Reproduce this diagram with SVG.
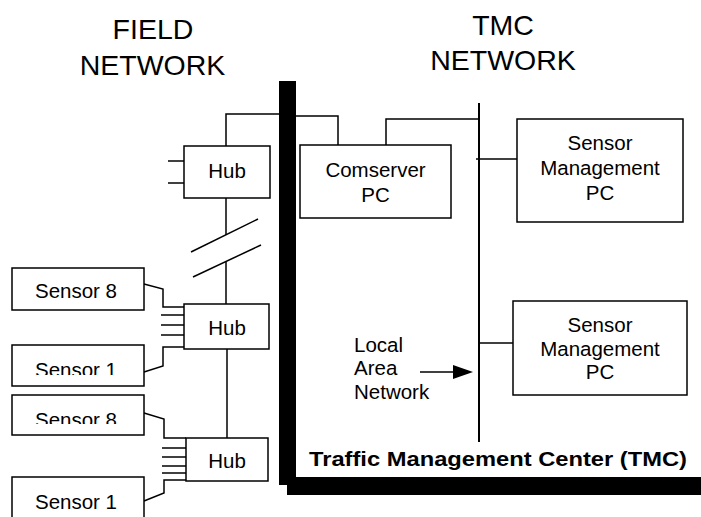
<svg xmlns="http://www.w3.org/2000/svg" width="701" height="517" viewBox="0 0 701 517">
<style>
text{font-family:"Liberation Sans",Arial,sans-serif;fill:#000}
.t{font-size:20.5px;text-anchor:middle}
.h{font-size:28.5px;text-anchor:middle}
.l{font-size:20.5px}
.b{fill:#fff;stroke:#000;stroke-width:1.5}
.c{fill:none;stroke:#000;stroke-width:1.5}
</style>
<defs>
<clipPath id="clipS1"><rect x="12" y="345" width="132" height="30"/></clipPath>
<clipPath id="clipS8"><rect x="12" y="395" width="132" height="29"/></clipPath>
</defs>
<rect width="701" height="517" fill="#fff"/>
<g id="titles">
<text class="h" x="153" y="39">FIELD</text>
<text class="h" x="152.5" y="75">NETWORK</text>
<text class="h" x="503" y="35">TMC</text>
<text class="h" x="503" y="70">NETWORK</text>
</g>
<g id="tmc-border">
<rect x="279" y="81" width="17" height="404" fill="#000"/>
<rect x="287" y="477" width="414" height="18" fill="#000"/>
<text x="309" y="466" font-size="20.5" font-weight="bold" textLength="378" lengthAdjust="spacingAndGlyphs">Traffic Management Center (TMC)</text>
</g>
<g id="connectors" class="c">
<polyline points="226,146 226,114 279,114"/>
<polyline points="296,116 338,116 338,145"/>
<polyline points="386,145 386,119 479,119"/>
<line x1="479" y1="103" x2="479" y2="442" stroke-width="2"/>
<line x1="476" y1="159" x2="517" y2="159"/>
<line x1="479" y1="343" x2="513" y2="343"/>
<line x1="168" y1="161" x2="184" y2="161"/>
<line x1="168" y1="183" x2="184" y2="183"/>
<line x1="226" y1="198" x2="226" y2="235"/>
<line x1="191" y1="252" x2="258" y2="219"/>
<line x1="193" y1="277" x2="261" y2="245"/>
<line x1="226" y1="262" x2="226" y2="304"/>
<line x1="227" y1="349" x2="227" y2="438"/>
<polyline points="144,284 163,289 163,307 184,307"/>
<line x1="161" y1="315" x2="184" y2="315"/>
<line x1="161" y1="325" x2="184" y2="325"/>
<line x1="161" y1="335" x2="184" y2="335"/>
<polyline points="144,372 163,366 163,347 184,347"/>
<polyline points="144,413 164,419 164,438 186,438"/>
<line x1="162" y1="448" x2="186" y2="448"/>
<line x1="162" y1="457" x2="186" y2="457"/>
<line x1="162" y1="466" x2="186" y2="466"/>
<line x1="162" y1="473" x2="186" y2="473"/>
<polyline points="144,501 164,493 164,480 186,480"/>
<line x1="420" y1="372" x2="455" y2="372"/>
<polygon points="453,365 473,372 453,379" fill="#000" stroke="none"/>
</g>
<g id="hub1"><rect class="b" x="184" y="146" width="86" height="52"/><text class="t" x="227" y="178">Hub</text></g>
<g id="hub2"><rect class="b" x="184" y="304" width="85" height="45"/><text class="t" x="227" y="335">Hub</text></g>
<g id="hub3"><rect class="b" x="186" y="438" width="82" height="43"/><text class="t" x="227" y="468">Hub</text></g>
<g id="comserver"><rect class="b" x="300" y="145" width="151" height="73"/><text class="t" x="375.5" y="177">Comserver</text><text class="t" x="375.5" y="202">PC</text></g>
<g id="smpc1"><rect class="b" x="517" y="119" width="166" height="103"/><text class="t" x="600" y="150">Sensor</text><text class="t" x="600" y="175">Management</text><text class="t" x="600" y="200">PC</text></g>
<g id="smpc2"><rect class="b" x="513" y="301" width="174" height="94"/><text class="t" x="600" y="332">Sensor</text><text class="t" x="600" y="356">Management</text><text class="t" x="600" y="379">PC</text></g>
<g id="lan-label"><text class="l" x="354" y="352">Local</text><text class="l" x="354" y="375">Area</text><text class="l" x="354" y="399">Network</text></g>
<g id="sensor8a"><rect class="b" x="12" y="268" width="132" height="42"/><text class="t" x="76" y="298">Sensor 8</text></g>
<g id="sensor1a"><rect class="b" x="12" y="345" width="132" height="41"/><text class="t" x="76" y="377" clip-path="url(#clipS1)">Sensor 1</text></g>
<g id="sensor8b"><rect class="b" x="12" y="395" width="132" height="40"/><text class="t" x="76" y="427" clip-path="url(#clipS8)">Sensor 8</text></g>
<g id="sensor1b"><rect class="b" x="12" y="477" width="132" height="50"/><text class="t" x="76" y="509">Sensor 1</text></g>
</svg>
